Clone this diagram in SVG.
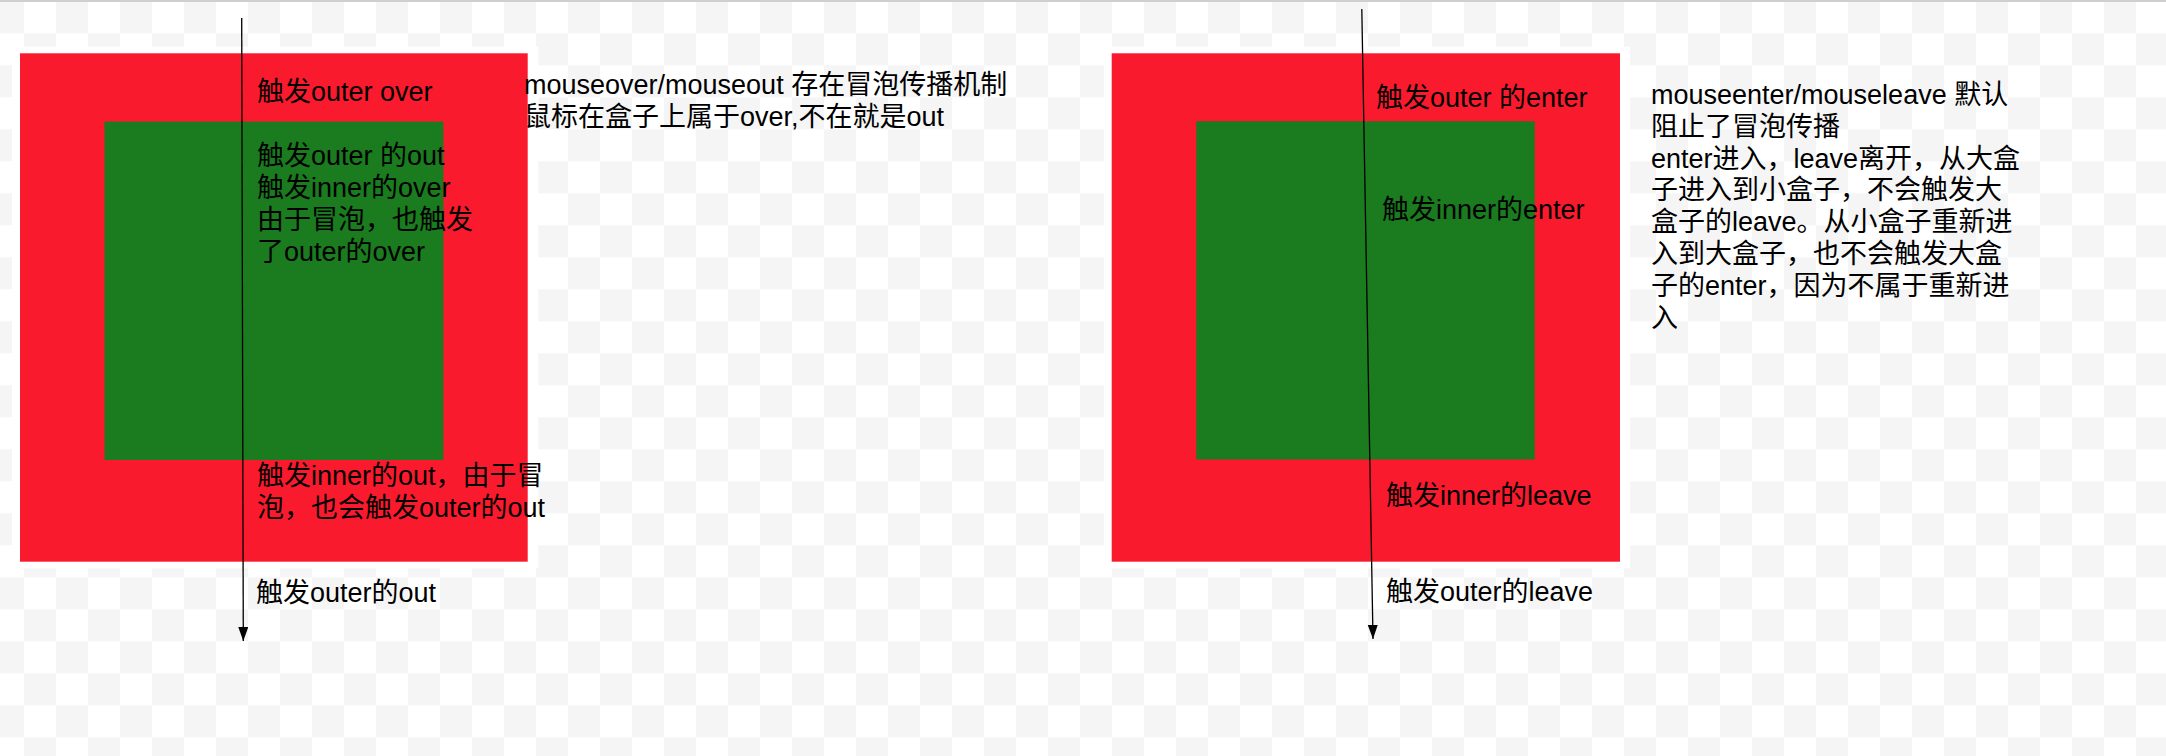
<svg xmlns="http://www.w3.org/2000/svg" width="2166" height="756" viewBox="0 0 2166 756">
  <defs>
    <pattern id="checker" x="24" y="1.3" width="64" height="64" patternUnits="userSpaceOnUse">
      <rect x="0" y="0" width="64" height="64" fill="#ffffff"/>
      <rect x="32" y="0" width="32" height="32" fill="#f5f5f5"/>
      <rect x="0" y="32" width="32" height="32" fill="#f5f5f5"/>
    </pattern>
    <marker id="arrow" markerUnits="userSpaceOnUse" markerWidth="15" markerHeight="11" refX="14" refY="5" orient="auto">
      <path d="M0,0 L14,5 L0,10 Z" fill="#000000"/>
    </marker>
    <style>
      .outer { fill: #fa1a2d; }
      .inner { fill: #1a7b1f; }
      .margin { fill: #ffffff; }
      .lbl { font-family: "Liberation Sans", "Noto Sans CJK SC", sans-serif; font-size: 27px; fill: #000000; }
      .conn { stroke: #000000; stroke-width: 1.3; fill: none; }
    </style>
  </defs>

  <rect x="0" y="0" width="2166" height="756" fill="url(#checker)"/>
  <rect x="0" y="0" width="2166" height="2" fill="#cfcfcf"/>

  <g id="outer-left">
    <rect class="margin" x="12" y="46.7" width="526.3" height="521.6"/>
    <rect class="outer" x="20" y="53.3" width="507.7" height="508.4"/>
  </g>
  <g id="inner-left">
    <rect class="inner" x="104.5" y="121.6" width="338.9" height="338.4"/>
  </g>

  <g id="outer-right">
    <rect class="margin" x="1104" y="46.7" width="526" height="521.6"/>
    <rect class="outer" x="1111.7" y="53.3" width="508.3" height="508.4"/>
  </g>
  <g id="inner-right">
    <rect class="inner" x="1196.3" y="121.3" width="338.4" height="338.2"/>
  </g>

  <g id="connectors">
    <line class="conn" x1="241.7" y1="18" x2="243.3" y2="641" marker-end="url(#arrow)"/>
    <line class="conn" x1="1361.8" y1="9" x2="1373" y2="639" marker-end="url(#arrow)"/>
  </g>

  <g id="labels-left">
    <text class="lbl" x="257" y="101">触发outer over</text>
    <text class="lbl" x="257" y="165">触发outer 的out</text>
    <text class="lbl" x="257" y="197">触发inner的over</text>
    <text class="lbl" x="257" y="229">由于冒泡，也触发</text>
    <text class="lbl" x="257" y="261">了outer的over</text>
    <text class="lbl" x="257" y="485">触发inner的out，由于冒</text>
    <text class="lbl" x="257" y="517">泡，也会触发outer的out</text>
    <text class="lbl" x="256" y="602">触发outer的out</text>
  </g>

  <g id="note-left">
    <text class="lbl" x="524" y="94">mouseover/mouseout 存在冒泡传播机制</text>
    <text class="lbl" x="524" y="126">鼠标在盒子上属于over,不在就是out</text>
  </g>

  <g id="labels-right">
    <text class="lbl" x="1376" y="107">触发outer 的enter</text>
    <text class="lbl" x="1382" y="219">触发inner的enter</text>
    <text class="lbl" x="1386" y="505">触发inner的leave</text>
    <text class="lbl" x="1386" y="601">触发outer的leave</text>
  </g>

  <g id="note-right">
    <text class="lbl" x="1651" y="104">mouseenter/mouseleave 默认</text>
    <text class="lbl" x="1651" y="135.8">阻止了冒泡传播</text>
    <text class="lbl" x="1651" y="167.6">enter进入，leave离开，从大盒</text>
    <text class="lbl" x="1651" y="199.4">子进入到小盒子，不会触发大</text>
    <text class="lbl" x="1651" y="231.2">盒子的leave。从小盒子重新进</text>
    <text class="lbl" x="1651" y="263">入到大盒子，也不会触发大盒</text>
    <text class="lbl" x="1651" y="294.8">子的enter，因为不属于重新进</text>
    <text class="lbl" x="1651" y="326.6">入</text>
  </g>
</svg>
